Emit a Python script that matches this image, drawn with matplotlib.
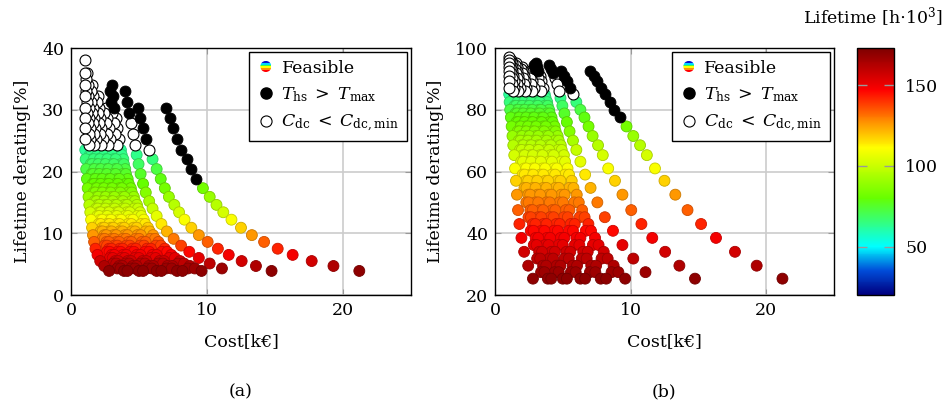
"""
Pareto fronts of the converter designs: cost vs. lifetime derating,
coloured by capacitor lifetime.
"""
import numpy as np
import matplotlib
matplotlib.use("Agg")
import matplotlib.pyplot as plt
from matplotlib.colors import LinearSegmentedColormap, Normalize
from matplotlib.cm import ScalarMappable
from matplotlib.legend_handler import HandlerBase
from matplotlib.patches import Circle, Rectangle
from matplotlib.lines import Line2D

plt.rcParams['font.family'] = ['DejaVu Serif']
plt.rcParams['mathtext.fontset'] = 'dejavuserif'

FS = 12.5

# derating levels along a design sweep (two interleaved level sets)
# _a: derating of panel (a) [%], _b: derating of panel (b) [%], _life: lifetime [h*1e3]
levels1_a = [38.0, 36.0, 34.0, 32.2, 30.3, 28.6, 27.0, 25.2, 23.5, 22.0, 20.4, 18.8, 17.3,
             15.9, 14.6, 13.4, 12.2, 10.9, 9.7, 8.6, 7.5, 6.5, 5.5, 4.7, 3.9]
levels1_b = [97.0, 96.2, 95.2, 94.0, 92.6, 91.0, 89.3, 87.2, 85.0, 82.5, 80.0, 77.5, 74.6,
             71.5, 68.5, 65.3, 61.0, 57.0, 52.5, 47.5, 43.0, 38.5, 34.0, 29.5, 25.3]
levels1_life = [58, 58, 58, 58, 58, 58, 58, 60, 62, 66, 72, 78, 83,
                90, 96, 102, 110, 118, 126, 134, 142, 149, 156, 163, 170]

levels2_a = [37.0, 35.0, 33.1, 31.2, 29.4, 27.8, 26.1, 24.3, 22.7, 21.2, 19.6, 18.0,
             16.6, 15.2, 14.0, 12.8, 11.5, 10.3, 9.1, 8.0, 7.0, 6.0, 5.1, 4.3]
levels2_b = [96.6, 95.7, 94.6, 93.3, 91.8, 90.2, 88.3, 86.2, 83.8, 81.3, 78.8, 76.0,
             73.0, 70.0, 67.0, 63.2, 59.0, 54.7, 50.0, 45.2, 40.8, 36.2, 31.8, 27.4]
levels2_life = [58, 58, 58, 58, 58, 58, 58, 60, 64, 69, 75, 80,
                86, 93, 99, 106, 114, 122, 130, 138, 146, 152, 160, 167]

# each chain: (level set, first level index, n thermal-limited, n cap-limited, cost [k EUR])
chains = [
    (1, 4, 8, 0, [7.0, 7.3, 7.5, 7.8, 8.1, 8.5, 8.8, 9.2, 9.7, 10.2, 10.7, 11.2, 11.8, 12.5,
                  13.3, 14.2, 15.2, 16.3, 17.7, 19.3, 21.2]),
    (1, 4, 4, 1, [4.9, 5.1, 5.3, 5.5, 5.75, 6.0, 6.3, 6.6, 6.9, 7.2, 7.6, 7.95, 8.35, 8.85,
                  9.4, 10.05, 10.8, 11.6, 12.55, 13.6, 14.75]),
    (2, 2, 3, 3, [3.95, 4.1, 4.25, 4.4, 4.55, 4.7, 4.83, 4.97, 5.12, 5.3, 5.5, 5.75, 6.0,
                  6.3, 6.65, 7.05, 7.55, 8.1, 8.7, 9.4, 10.2, 11.1]),
    (1, 2, 3, 3, [3.0, 3.08, 3.17, 3.3, 3.4, 3.53, 3.67, 3.85, 3.99, 4.17, 4.4, 4.62, 4.85,
                  5.08, 5.35, 5.66, 6.03, 6.43, 6.89, 7.38, 8.02, 8.75, 9.6]),
    (2, 2, 2, 4, [2.86, 2.93, 3.03, 3.14, 3.25, 3.37, 3.53, 3.67, 3.82, 4.01, 4.22, 4.44,
                  4.65, 4.88, 5.16, 5.48, 5.84, 6.24, 6.69, 7.22, 7.86, 8.6]),
    (1, 4, 0, 4, [2.57, 2.68, 2.76, 2.87, 2.98, 3.13, 3.24, 3.39, 3.57,
                  3.75, 3.94, 4.12, 4.34, 4.6, 4.89, 5.22, 5.59, 6.0, 6.51, 7.1, 7.8]),
    (2, 4, 0, 4, [2.45, 2.55, 2.65, 2.74, 2.87, 2.99, 3.11, 3.27,
                  3.44, 3.61, 3.79, 3.98, 4.2, 4.46, 4.75, 5.08, 5.44, 5.88, 6.4, 7.0]),
    (1, 3, 0, 5, [2.02, 2.08, 2.17, 2.23, 2.32, 2.41, 2.53, 2.62, 2.74,
                  2.89, 3.03, 3.18, 3.33, 3.51, 3.72, 3.96, 4.22, 4.52, 4.85, 5.27, 5.74, 6.3]),
    (2, 3, 0, 5, [1.91, 1.98, 2.05, 2.12, 2.2, 2.3, 2.39, 2.49, 2.61,
                  2.75, 2.89, 3.03, 3.18, 3.36, 3.57, 3.8, 4.07, 4.35, 4.7, 5.12, 5.6]),
    (1, 2, 0, 6, [1.57, 1.6, 1.65, 1.72, 1.77, 1.84, 1.91, 2.01, 2.07, 2.17,
                  2.29, 2.4, 2.52, 2.64, 2.78, 2.95, 3.14, 3.35, 3.59, 3.84, 4.17, 4.55, 5.0]),
    (2, 2, 0, 6, [1.46, 1.5, 1.55, 1.61, 1.66, 1.72, 1.8, 1.88, 1.95, 2.05,
                  2.16, 2.27, 2.38, 2.5, 2.64, 2.8, 2.99, 3.19, 3.42, 3.7, 4.02, 4.4]),
    (1, 1, 0, 7, [1.19, 1.22, 1.25, 1.29, 1.34, 1.38, 1.43, 1.49, 1.56, 1.62, 1.69,
                  1.78, 1.88, 1.97, 2.06, 2.17, 2.3, 2.45, 2.61, 2.8, 3.0, 3.26, 3.55, 3.9]),
    (2, 1, 0, 7, [1.1, 1.13, 1.16, 1.2, 1.24, 1.29, 1.33, 1.39, 1.45, 1.51, 1.59,
                  1.67, 1.75, 1.84, 1.93, 2.04, 2.17, 2.31, 2.47, 2.64, 2.86, 3.11, 3.4]),
    (1, 0, 0, 8, [1.0, 1.0, 1.02, 1.03, 1.04, 1.05, 1.05, 1.05, 1.05, 1.08, 1.12, 1.17,
                  1.23, 1.29, 1.35, 1.42, 1.48, 1.55, 1.62, 1.7, 1.8, 1.95, 2.15, 2.45, 2.8]),
    # feasible-only designs filling the dense lower region
    (1, 8, 0, 0, [1.59, 1.67, 1.72, 1.8, 1.9, 2.0, 2.1, 2.19, 2.31, 2.45, 2.6, 2.78, 2.98,
                  3.19, 3.47, 3.78, 4.15]),
    (1, 8, 0, 0, [2.03, 2.13, 2.2, 2.3, 2.43, 2.55, 2.68, 2.8, 2.95, 3.12, 3.33, 3.55, 3.8,
                  4.07, 4.42, 4.83, 5.3]),
    (1, 8, 0, 0, [2.54, 2.67, 2.76, 2.89, 3.04, 3.2, 3.36, 3.51, 3.7, 3.92, 4.17, 4.45, 4.77,
                  5.11, 5.55, 6.05, 6.65]),
    (1, 8, 0, 0, [3.13, 3.29, 3.4, 3.56, 3.75, 3.94, 4.13, 4.33, 4.56, 4.83, 5.14, 5.49, 5.88,
                  6.3, 6.84, 7.46, 8.2]),
    (2, 8, 0, 0, [1.5, 1.56, 1.62, 1.7, 1.79, 1.88, 1.97, 2.07, 2.19, 2.32, 2.48, 2.65, 2.84,
                  3.07, 3.33, 3.65]),
    (2, 8, 0, 0, [1.93, 2.01, 2.09, 2.19, 2.31, 2.43, 2.54, 2.67, 2.82, 2.99, 3.19, 3.41,
                  3.65, 3.95, 4.29, 4.7]),
    (2, 8, 0, 0, [2.44, 2.54, 2.64, 2.78, 2.92, 3.07, 3.22, 3.38, 3.57, 3.79, 4.04, 4.32,
                  4.63, 5.0, 5.44, 5.95]),
    (2, 8, 0, 0, [3.03, 3.16, 3.29, 3.45, 3.63, 3.82, 4.0, 4.2, 4.44, 4.71, 5.02, 5.37, 5.75,
                  6.22, 6.76, 7.4]),
    (2, 8, 0, 0, [3.73, 3.89, 4.04, 4.25, 4.47, 4.7, 4.92, 5.17, 5.46, 5.79, 6.18, 6.61, 7.08,
                  7.64, 8.31, 9.1]),
]

levels = {1: (levels1_a, levels1_b, levels1_life), 2: (levels2_a, levels2_b, levels2_life)}

cost, der_a, der_b, life, status = [], [], [], [], []
for lv, first, n_hot, n_cap, xs in chains:
    la, lb, ll = levels[lv]
    for j, x in enumerate(xs):
        k = first + j
        cost.append(x)
        der_a.append(la[k])
        der_b.append(lb[k])
        life.append(ll[k])
        status.append('T' if j < n_hot else ('C' if j < n_hot + n_cap else 'F'))
cost = np.array(cost)
der_a = np.array(der_a)
der_b = np.array(der_b)
life = np.array(life)
status = np.array(status)

# jet-like map used in the thesis figures
vmin, vmax = 20, 173
stops = [(20, (0.0, 0.0, 0.5)), (35, (0.0, 0.3, 0.85)), (50, (0.0, 1.0, 1.0)),
         (80, (0.4, 1.0, 0.0)), (111, (1.0, 1.0, 0.0)), (126, (1.0, 0.6, 0.0)),
         (147, (1.0, 0.0, 0.0)), (173, (0.5, 0.0, 0.0))]
cmap = LinearSegmentedColormap.from_list(
    'life', [((v - vmin) / (vmax - vmin), c) for v, c in stops])
norm = Normalize(vmin, vmax)


class HandlerRainbow(HandlerBase):
    def create_artists(self, legend, orig_handle, xdescent, ydescent, width, height,
                       fontsize, trans):
        cx = width / 2 - xdescent
        cy = height / 2 - ydescent
        r = 4.0
        circ = Circle((cx, cy), r, facecolor='none', edgecolor='none', transform=trans)
        cols = ['#0010d0', '#00d8ff', '#40ff40', '#ffff00', '#ff9000', '#ff0000']
        h = 2 * r / len(cols)
        arts = [circ]
        for i, c in enumerate(cols):
            rect = Rectangle((cx - r, cy + r - (i + 1) * h), 2 * r, h, facecolor=c,
                             edgecolor='none', transform=trans)
            rect.set_clip_path(circ)
            arts.append(rect)
        return arts


fig = plt.figure(figsize=(9.45, 4.09), dpi=100)
ax_a = fig.add_axes([0.0751, 0.2787, 0.3598, 0.6039])
ax_b = fig.add_axes([0.5238, 0.2787, 0.3587, 0.6039])
cax = fig.add_axes([0.9069, 0.2787, 0.0392, 0.6039])

ms = 62
feas = np.where(status == 'F')[0]
feas = feas[np.argsort(life[feas], kind='stable')]
cap = status == 'C'
hot = status == 'T'
face = cmap(norm(life[feas]))
edge = face.copy()
edge[:, :3] *= 0.8

for ax, der in ((ax_a, der_a), (ax_b, der_b)):
    ax.scatter(cost[feas], der[feas], s=ms, c=face, edgecolors=edge, linewidths=0.6, zorder=3)
    ax.scatter(cost[cap], der[cap], s=ms, facecolors='white', edgecolors='black',
               linewidths=0.8, zorder=4)
    ax.scatter(cost[hot], der[hot], s=ms, facecolors='black', edgecolors='black',
               linewidths=0.6, zorder=5)
    ax.set_xlim(0, 25)
    ax.set_xticks([0, 10, 20])
    ax.grid(True, color='#cccccc', linewidth=1.2)
    ax.set_axisbelow(True)
    ax.tick_params(direction='in', length=4, color='#999999', top=True, right=True,
                   labelsize=FS, pad=5)
    for sp in ax.spines.values():
        sp.set_linewidth(1.0)
    ax.set_xlabel('Cost[k€]', fontsize=FS, labelpad=10)
    ax.set_ylabel('Lifetime derating[%]', fontsize=FS, labelpad=8)

    h_rain = Line2D([], [])
    h_hot = Line2D([], [], marker='o', ls='none', markerfacecolor='black',
                   markeredgecolor='black', markersize=8)
    h_cap = Line2D([], [], marker='o', ls='none', markerfacecolor='white',
                   markeredgecolor='black', markersize=8, markeredgewidth=0.8)
    leg = ax.legend([h_rain, h_hot, h_cap],
                    ['Feasible', r'$T_{\mathrm{hs}}\;>\;T_{\mathrm{max}}$',
                     r'$C_{\mathrm{dc}}\;<\;C_{\mathrm{dc,min}}$'],
                    handler_map={h_rain: HandlerRainbow()},
                    loc='upper right', bbox_to_anchor=(0.988, 0.985), fontsize=FS,
                    fancybox=False, framealpha=1, edgecolor='black', borderpad=0.45,
                    handlelength=1.0, handletextpad=0.4, labelspacing=0.5,
                    borderaxespad=0.0)
    leg.get_frame().set_linewidth(1.0)
    leg.set_zorder(10)

ax_a.set_ylim(0, 40)
ax_a.set_yticks([0, 10, 20, 30, 40])
ax_b.set_ylim(20, 100)
ax_b.set_yticks([20, 40, 60, 80, 100])

cb = fig.colorbar(ScalarMappable(norm=norm, cmap=cmap), cax=cax, ticks=[50, 100, 150])
cax.tick_params(which='both', direction='in', left=True, right=True, length=7,
                width=1.0, color='#999999', labelsize=FS, pad=8)
cb.outline.set_linewidth(1.0)
cax.minorticks_off()

fig.text(0.998, 0.943, r'Lifetime [h$\cdot$10$^3$]', ha='right', va='baseline', fontsize=FS)
fig.text(0.255, 0.03, '(a)', ha='center', fontsize=FS)
fig.text(0.703, 0.03, '(b)', ha='center', fontsize=FS)

fig.savefig('out.png', dpi=100)
plt.close(fig)
